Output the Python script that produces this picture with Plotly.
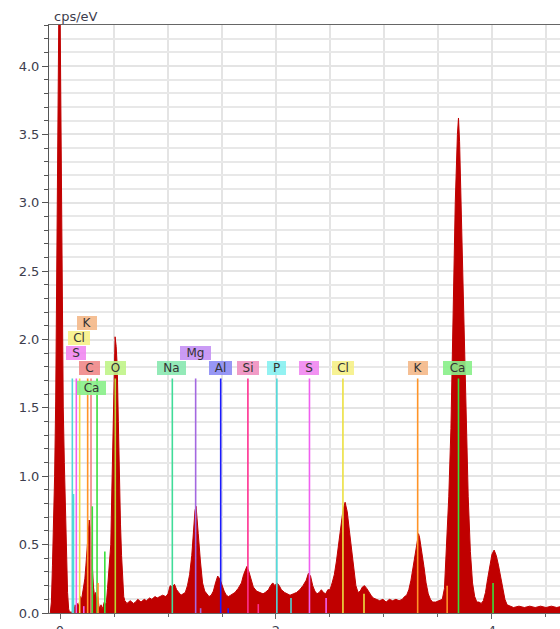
import plotly.graph_objects as go

# ---------------- data ----------------
energy_keV = [
    -0.09, -0.08, -0.07, -0.06, -0.05, -0.04, -0.03, -0.02, -0.01, 0.0, 0.01, 0.02, 0.03, 0.04, 0.05, 0.06, 0.07, 0.08,
    0.09, 0.10, 0.11, 0.12, 0.13, 0.14, 0.15, 0.16, 0.17, 0.18, 0.19, 0.20, 0.21, 0.22, 0.23, 0.24, 0.25, 0.26,
    0.27, 0.28, 0.29, 0.30, 0.31, 0.32, 0.33, 0.34, 0.35, 0.36, 0.37, 0.38, 0.39, 0.40, 0.41, 0.42,
    0.43, 0.44, 0.45, 0.46, 0.47, 0.48, 0.49, 0.50, 0.51, 0.52, 0.53, 0.54, 0.55, 0.56, 0.57, 0.58, 0.59, 0.60,
    0.62, 0.65, 0.68, 0.70, 0.72, 0.75, 0.78, 0.80, 0.83, 0.85, 0.88, 0.90, 0.93, 0.95, 0.98, 1.00,
    1.02, 1.04, 1.06, 1.08, 1.10, 1.12, 1.14, 1.16, 1.18, 1.20, 1.22, 1.24, 1.25, 1.26, 1.27, 1.28, 1.30,
    1.32, 1.34, 1.36, 1.38, 1.40, 1.42, 1.44, 1.46, 1.48, 1.50, 1.52, 1.54, 1.56, 1.58, 1.60,
    1.62, 1.65, 1.68, 1.70, 1.72, 1.73, 1.75, 1.77, 1.79, 1.82, 1.85, 1.88, 1.90,
    1.93, 1.95, 1.97, 1.99, 2.01, 2.03, 2.05, 2.08, 2.10, 2.13, 2.16,
    2.19, 2.22, 2.25, 2.28, 2.30, 2.32, 2.34, 2.36, 2.38, 2.40, 2.42, 2.44, 2.46, 2.48,
    2.50, 2.52, 2.54, 2.56, 2.58, 2.60, 2.62, 2.64, 2.66, 2.68, 2.70, 2.72, 2.74, 2.76, 2.78, 2.80, 2.82, 2.84, 2.86,
    2.88, 2.90, 2.93, 2.96, 2.99, 3.02, 3.05, 3.08, 3.11, 3.14, 3.17, 3.19,
    3.21, 3.23, 3.25, 3.27, 3.29, 3.31, 3.32, 3.33, 3.35, 3.37, 3.39, 3.41, 3.43, 3.45, 3.48, 3.51, 3.53,
    3.54, 3.56, 3.58, 3.60, 3.62, 3.64, 3.66, 3.68, 3.69, 3.70, 3.72, 3.74, 3.76, 3.78, 3.80, 3.82, 3.84, 3.86, 3.88,
    3.90, 3.92, 3.94, 3.96, 3.98, 4.00, 4.02, 4.04, 4.06, 4.08, 4.10, 4.12, 4.14, 4.17, 4.20,
    4.25, 4.30, 4.35, 4.40, 4.45, 4.50, 4.55, 4.60, 4.65,
]
cps_per_eV = [
    0.0, 0.08, 0.35, 0.6, 1.0, 1.55, 2.5, 3.3, 4.5, 4.5, 3.2, 2.6, 1.5, 1.1, 0.75, 0.45, 0.15, 0.03,
    0.0, 0.01, 0.0, 0.03, 0.02, 0.06, 0.03, 0.07, 0.05, 0.08, 0.12, 0.10, 0.15, 0.17, 0.25, 0.35, 0.46, 0.55,
    0.68, 0.62, 0.45, 0.28, 0.19, 0.12, 0.15, 0.08, 0.12, 0.05, 0.04, 0.06, 0.03, 0.05, 0.08, 0.06,
    0.08, 0.18, 0.28, 0.38, 0.5, 0.9, 1.3, 1.75, 2.02, 1.95, 1.8, 1.4, 0.95, 0.65, 0.42, 0.2, 0.12, 0.09,
    0.07, 0.09, 0.07, 0.08, 0.10, 0.08, 0.10, 0.09, 0.11, 0.10, 0.12, 0.11, 0.12, 0.13, 0.12, 0.14,
    0.20, 0.19, 0.21, 0.17, 0.15, 0.13, 0.14, 0.15, 0.20, 0.28, 0.42, 0.62, 0.75, 0.78, 0.70, 0.58, 0.38,
    0.22, 0.16, 0.14, 0.12, 0.13, 0.16, 0.22, 0.27, 0.25, 0.20, 0.16, 0.13, 0.12, 0.13, 0.14,
    0.15, 0.18, 0.22, 0.28, 0.33, 0.34, 0.30, 0.24, 0.19, 0.16, 0.15, 0.14, 0.15,
    0.17, 0.20, 0.22, 0.20, 0.22, 0.20, 0.17, 0.15, 0.14, 0.13, 0.14,
    0.15, 0.17, 0.20, 0.24, 0.29, 0.27, 0.20, 0.16, 0.14, 0.15, 0.17, 0.15, 0.14, 0.17,
    0.17, 0.22, 0.28, 0.38, 0.50, 0.65, 0.75, 0.81, 0.74, 0.60, 0.45, 0.30, 0.20, 0.15, 0.16, 0.19, 0.20, 0.18, 0.15,
    0.13, 0.11, 0.10, 0.09, 0.10, 0.08, 0.10, 0.09, 0.10, 0.09, 0.10, 0.12,
    0.13, 0.17, 0.24, 0.34, 0.46, 0.56, 0.58, 0.55, 0.46, 0.34, 0.22, 0.14, 0.10, 0.08, 0.08, 0.09, 0.10,
    0.10, 0.18, 0.50, 0.85, 1.35, 2.2, 3.0, 3.5, 3.62, 3.45, 2.8, 2.0, 1.4, 0.85, 0.45, 0.22, 0.12, 0.08, 0.08,
    0.07, 0.09, 0.15, 0.25, 0.35, 0.43, 0.46, 0.42, 0.35, 0.26, 0.16, 0.10, 0.06, 0.05, 0.04,
    0.05, 0.04, 0.05, 0.04, 0.05, 0.04, 0.05, 0.04, 0.05,
]

# element marker lines
line_elements = ["P", "P", "S", "S", "Cl", "K", "C", "Ca", "Ca", "K", "Ca", "O",
                 "Na", "Mg", "Mg", "Al", "Al", "Si", "Si", "P", "P", "S", "S",
                 "Cl", "Cl", "K", "K", "Ca", "Ca"]
line_energy = [0.114, 0.125, 0.151, 0.22, 0.182, 0.256, 0.287, 0.299, 0.343, 0.352, 0.415, 0.512,
               1.040, 1.256, 1.302, 1.488, 1.557, 1.740, 1.836, 2.008, 2.139, 2.310, 2.464,
               2.620, 2.815, 3.312, 3.585, 3.690, 4.010]
line_height = [1.715, 0.87, 1.715, 0.05, 1.715, 1.715, 1.715, 0.78, 1.715, 0.22, 0.45, 1.715,
               1.715, 1.715, 0.035, 1.715, 0.035, 1.715, 0.065, 1.715, 0.11, 1.715, 0.11,
               1.715, 0.14, 1.715, 0.20, 1.715, 0.22]

# element labels (centre position in data units)
label_text = ["K", "Cl", "S", "C", "O", "Ca", "Na", "Mg", "Al", "Si", "P", "S", "Cl", "K", "Ca"]
label_energy = [0.250, 0.176, 0.144, 0.273, 0.514, 0.296, 1.032, 1.250, 1.486, 1.741, 2.006, 2.306, 2.620, 3.315, 3.681]
label_level = [2.123, 2.012, 1.899, 1.793, 1.793, 1.647, 1.793, 1.903, 1.793, 1.793, 1.793, 1.793, 1.793, 1.793, 1.793]

y_tick_vals = [0.0, 0.5, 1.0, 1.5, 2.0, 2.5, 3.0, 3.5, 4.0]
x_tick_vals = [0, 2, 4]

# ---------------- style ----------------
line_colors = {
    "P": "#4fd8d8", "S": "#f060f0", "Cl": "#ece040", "K": "#ff9428", "C": "#f08080",
    "Ca": "#3ae03a", "O": "#b8d830", "Na": "#40dc98", "Mg": "#a468e0", "Al": "#1a1aff",
    "Si": "#ff3090",
}
box_colors = {
    "P": "rgba(128,240,240,0.85)", "S": "rgba(240,128,240,0.85)", "Cl": "rgba(246,240,128,0.85)",
    "K": "rgba(244,184,136,0.9)", "C": "rgba(240,136,136,0.9)", "Ca": "rgba(136,240,136,0.9)",
    "O": "rgba(192,244,136,0.9)", "Na": "rgba(136,232,176,0.9)", "Mg": "rgba(196,144,244,0.9)",
    "Al": "rgba(140,140,244,0.9)", "Si": "rgba(240,144,192,0.9)",
}
box_width = {"Na": 29, "Mg": 31, "Al": 23, "Si": 22, "P": 19, "S": 20, "Cl": 22, "K": 20,
             "Ca": 29, "O": 21, "C": 21}

FONT = "DejaVu Sans"
TXT = "#3d3d4d"

fig = go.Figure()
fig.add_trace(go.Scatter(
    x=energy_keV, y=cps_per_eV, mode="lines", fill="tozeroy",
    line=dict(color="#c00000", width=1), fillcolor="#c00000",
    hoverinfo="skip", showlegend=False,
))

shapes = []
for el, e, h in zip(line_elements, line_energy, line_height):
    shapes.append(dict(type="line", xref="x", yref="y", x0=e, x1=e, y0=0, y1=h,
                       line=dict(color=line_colors[el], width=1.6), layer="above"))

annotations = []
for t, e, lv in zip(label_text, label_energy, label_level):
    annotations.append(dict(
        x=e, y=lv, xref="x", yref="y", text=t, showarrow=False,
        xanchor="center", yanchor="middle",
        bgcolor=box_colors[t], borderpad=0, borderwidth=0,
        width=box_width[t], height=14,
        font=dict(family=FONT, size=12, color="#333333"),
    ))
annotations.append(dict(
    x=0, y=1, xref="paper", yref="paper", text="cps/eV", showarrow=False,
    xanchor="left", yanchor="bottom", xshift=3, yshift=-1,
    font=dict(family=FONT, size=13, color=TXT),
))

fig.update_layout(
    width=560, height=629,
    margin=dict(l=49, r=0, t=25, b=16, autoexpand=False),
    paper_bgcolor="white", plot_bgcolor="white",
    shapes=shapes, annotations=annotations,
    showlegend=False,
    font=dict(family=FONT, size=13, color=TXT),
    xaxis=dict(
        range=[-0.102, 4.63], tickvals=x_tick_vals, ticktext=[str(v) for v in x_tick_vals],
        automargin=False,
        showgrid=True, gridcolor="#e4e4e4", gridwidth=1.5,
        ticks="outside", ticklen=5, tickcolor="#666666",
        showline=True, linecolor="#666666", linewidth=1, mirror=True,
        zeroline=False,
        minor=dict(dtick=0.5, tick0=0, showgrid=True, gridcolor="#e4e4e4", gridwidth=1.5,
                   ticks="outside", ticklen=3, tickcolor="#666666"),
        tickfont=dict(family=FONT, size=13, color=TXT),
    ),
    yaxis=dict(
        range=[0, 4.30], tickvals=y_tick_vals, ticktext=[f"{v:.1f}" for v in y_tick_vals],
        automargin=False,
        showgrid=True, gridcolor="#e4e4e4", gridwidth=1.5,
        ticks="outside", ticklen=6, tickcolor="#555555",
        showline=True, linecolor="#555555", linewidth=1,
        zeroline=False,
        minor=dict(dtick=0.1, tick0=0, showgrid=True, gridcolor="#e8e8e8", gridwidth=1.5,
                   ticks="outside", ticklen=4, tickcolor="#555555"),
        tickfont=dict(family=FONT, size=13, color=TXT),
    ),
)

fig.write_html("out.html")
